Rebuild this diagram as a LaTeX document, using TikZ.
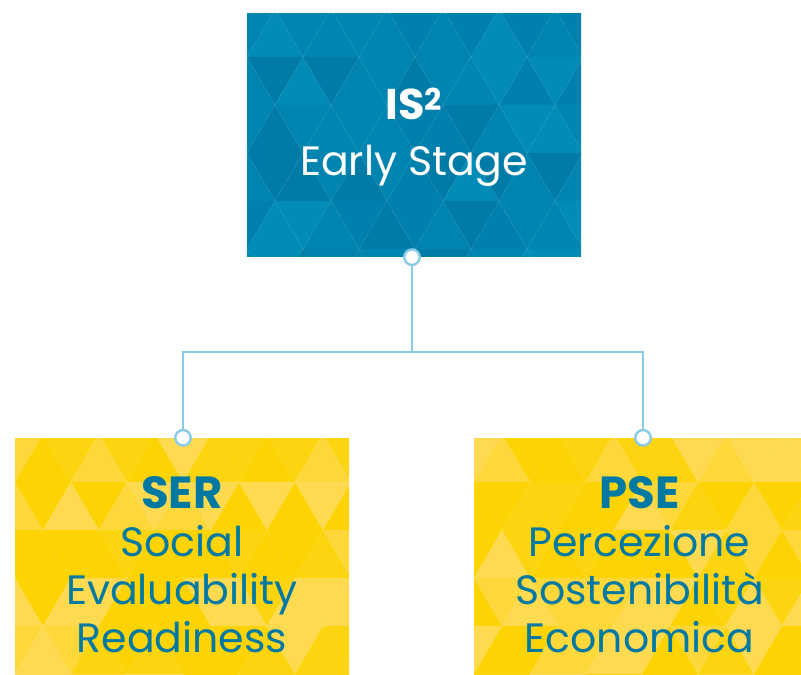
\documentclass[tikz,border=0pt]{standalone}
\usepackage{fontspec}
\setmainfont{Poppins}
\usetikzlibrary{backgrounds}
\definecolor{blueA}{HTML}{0085B1}
\definecolor{blueB}{HTML}{007BA6}
\definecolor{blueC}{HTML}{008CB6}
\definecolor{blueD}{HTML}{0080AC}
\definecolor{yelA}{HTML}{FDD303}
\definecolor{yelB}{HTML}{FED73A}
\definecolor{yelC}{HTML}{FEDA50}
\definecolor{yelD}{HTML}{FCD410}
\definecolor{txtblue}{HTML}{0079A2}
\definecolor{connblue}{HTML}{8BCBE8}
\pgfmathdeclarerandomlist{blues}{{blueA}{blueB}{blueC}{blueD}{blueA}}
\pgfmathdeclarerandomlist{yels}{{yelA}{yelB}{yelC}{yelD}{yelA}}
\newcommand\tripattern[5]{%
  \begin{scope}
    \clip (#1,#2) rectangle (#3,#4);
    \foreach \r in {0,...,5}{
      \foreach \c in {-1,...,7}{
        \pgfmathsetmacro\xa{#1+\c*56+mod(\r,2)*28}
        \pgfmathsetmacro\ya{#2-4+\r*48}
        \pgfmathrandomitem{\cola}{#5}
        \fill[\cola] (\xa,\ya+48) -- (\xa+56,\ya+48) -- (\xa+28,\ya) -- cycle;
        \pgfmathrandomitem{\colb}{#5}
        \fill[\colb] (\xa+28,\ya) -- (\xa+84,\ya) -- (\xa+56,\ya+48) -- cycle;
      }
    }
  \end{scope}}
\tikzset{
  box/.style={rectangle, inner sep=0pt},
  toptext/.style={align=center, inner sep=0pt, text=white, font=\fontsize{41}{56}\selectfont},
  subtext/.style={align=center, inner sep=0pt, text=txtblue, font=\fontsize{41}{48}\selectfont},
  conn/.style={draw=connblue, line width=2.6pt},
  dot/.style={circle, draw=connblue, fill=white, line width=2.4pt, minimum size=15.5pt, inner sep=0pt}
}
\begin{document}
\begin{tikzpicture}[x=1pt,y=-1pt]
\pgfmathsetseed{4242}
\useasboundingbox (0,0) rectangle (801,675);
\node[box, minimum width=334pt, minimum height=243pt] (top) at (414,134.5) {};
\node[box, minimum width=334pt, minimum height=237pt] (ser) at (182,556.5) {};
\node[box, minimum width=327pt, minimum height=237pt] (pse) at (637.5,556.5) {};
\node[toptext] (toplbl) at ([yshift=-3pt]top.center)
  {{\fontsize{43}{56}\selectfont\textbf{IS\textsuperscript{2}}}\\Early Stage};
\node[subtext] (serlbl) at ([yshift=-8pt]ser.center)
  {{\fontsize{45}{48}\selectfont\textbf{SER}}\\Social\\Evaluability\\Readiness};
\node[subtext] (pselbl) at ([xshift=2pt,yshift=-8pt]pse.center)
  {{\fontsize{45}{48}\selectfont\textbf{PSE}}\\Percezione\\Sostenibilità\\Economica};
\begin{scope}[on background layer]
  \tripattern{247}{13}{581}{256}{blues}
  \tripattern{15}{438}{349}{675}{yels}
  \tripattern{474}{438}{801}{675}{yels}
\end{scope}
\coordinate (hub) at (412,352);
\node[dot] (d0) at ([xshift=-2pt,yshift=-1pt]top.south) {};
\node[dot] (d1) at ([xshift=1pt]ser.north) {};
\node[dot] (d2) at ([xshift=5.5pt]pse.north) {};
\begin{scope}[on background layer]
  \draw[conn] (d0.center) -- (hub);
  \draw[conn] (hub) -| (d1.center);
  \draw[conn] (hub) -| (d2.center);
\end{scope}
\end{tikzpicture}
\end{document}
